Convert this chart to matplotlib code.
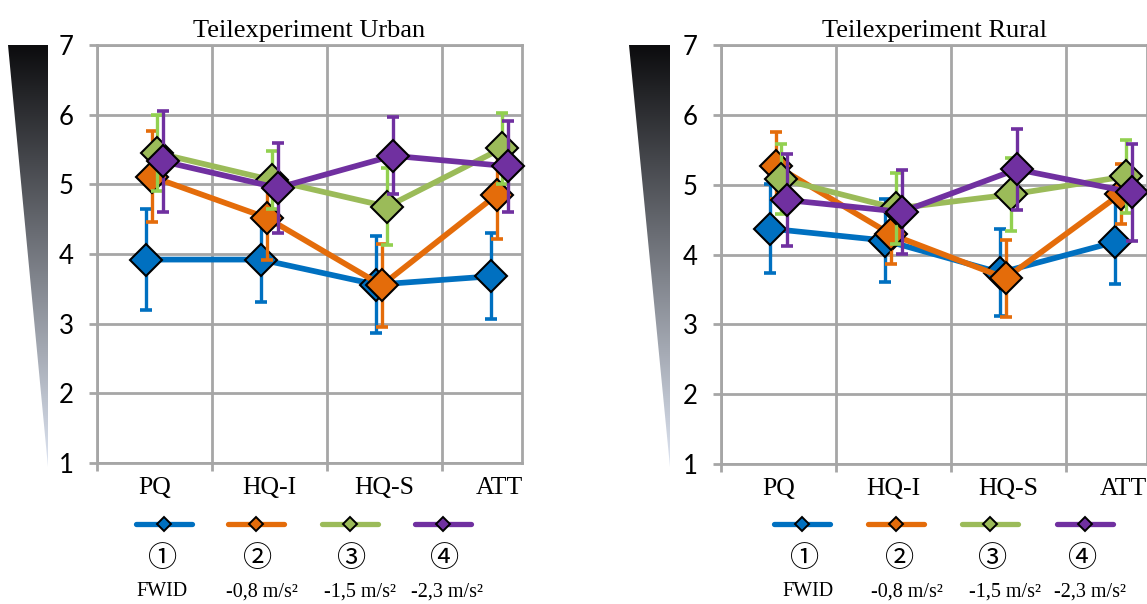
import numpy as np
import matplotlib
matplotlib.use("Agg")
import matplotlib.pyplot as plt
from matplotlib.patches import Polygon

# --- data -------------------------------------------------------------
categories = ["PQ", "HQ-I", "HQ-S", "ATT"]
series_numbers = ["①", "②", "③", "④"]
series_labels = ["FWID", "-0,8 m/s²", "-1,5 m/s²", "-2,3 m/s²"]

urban_fwid = [3.92, 3.92, 3.56, 3.68]
urban_fwid_err = [0.73, 0.61, 0.70, 0.62]
urban_08 = [5.11, 4.52, 3.55, 4.85]
urban_08_err = [0.65, 0.60, 0.60, 0.63]
urban_15 = [5.45, 5.06, 4.68, 5.52]
urban_15_err = [0.55, 0.42, 0.55, 0.51]
urban_23 = [5.33, 4.95, 5.41, 5.26]
urban_23_err = [0.72, 0.65, 0.55, 0.65]

rural_fwid = [4.37, 4.20, 3.74, 4.18]
rural_fwid_err = [0.64, 0.59, 0.62, 0.60]
rural_08 = [5.27, 4.29, 3.66, 4.87]
rural_08_err = [0.48, 0.43, 0.55, 0.43]
rural_15 = [5.08, 4.66, 4.86, 5.12]
rural_15_err = [0.50, 0.51, 0.52, 0.52]
rural_23 = [4.78, 4.61, 5.22, 4.89]
rural_23_err = [0.66, 0.60, 0.58, 0.69]

# --- style ------------------------------------------------------------
line_colors = ["#0070C0", "#E46C0A", "#9BBB59", "#7030A0"]
err_colors = ["#0070C0", "#E46C0A", "#92D050", "#7030A0"]
offsets = [-0.072, -0.024, 0.024, 0.072]
grid_color = "#A6A6A6"
serif = ["Liberation Serif", "DejaVu Serif"]
sans = ["Lato", "DejaVu Sans"]

W, H, DPI = 1147, 604, 100
fig = plt.figure(figsize=(W / DPI, H / DPI), dpi=DPI)


def px_axes(x0, x1, y_top, y_bot):
    return [x0 / W, 1 - y_bot / H, (x1 - x0) / W, (y_bot - y_top) / H]


def ax_width_units(ax):
    # one category step spans 115 px
    bbox = ax.get_position()
    return bbox.width * W / 115.0


def draw_panel(ax, title, series):
    x = np.arange(len(categories))
    for i, (vals, errs) in enumerate(series):
        xs = x + offsets[i]
        z = 3 + 3 * i
        ax.errorbar(xs, vals, yerr=errs, fmt="none", ecolor=err_colors[i],
                    elinewidth=2.4, capsize=4.3, capthick=2.6, zorder=z)
        ax.plot(xs, vals, color=line_colors[i], lw=4.1, zorder=z + 1,
                solid_joinstyle="round", solid_capstyle="round")
        ax.plot(xs, vals, ls="none", marker="D", ms=16.5, mfc=line_colors[i],
                mec="black", mew=1.5, zorder=z + 2, clip_on=False)

    ax.set_ylim(1, 7)
    ax.set_xlim(-0.5, -0.5 + ax_width_units(ax))
    ax.set_yticks(range(1, 8))
    ax.set_xticks(x)
    ax.set_xticklabels(categories, fontfamily=serif, fontsize=18.5)
    ax.set_xticks([-0.5, 0.5, 1.5, 2.5], minor=True)
    ax.tick_params(axis="x", which="major", length=0, pad=10)
    ax.tick_params(axis="x", which="minor", length=6, width=2, color=grid_color,
                   direction="out")
    ax.tick_params(axis="y", length=6, width=2, color=grid_color, pad=11,
                   labelsize=18.5)
    for lbl in ax.get_yticklabels():
        lbl.set_fontfamily(sans)
    ax.grid(axis="y", which="major", color=grid_color, lw=2)
    ax.grid(axis="x", which="minor", color=grid_color, lw=2)
    ax.set_axisbelow(True)
    for sp in ax.spines.values():
        sp.set_color(grid_color)
        sp.set_linewidth(2)
    ax.set_title(title, fontfamily=serif, fontsize=19, pad=6)


ax1 = fig.add_axes(px_axes(97, 522, 45, 463))
ax2 = fig.add_axes(px_axes(721, 1147, 45, 464))

draw_panel(ax1, "Teilexperiment Urban",
           [(urban_fwid, urban_fwid_err), (urban_08, urban_08_err),
            (urban_15, urban_15_err), (urban_23, urban_23_err)])
draw_panel(ax2, "Teilexperiment Rural",
           [(rural_fwid, rural_fwid_err), (rural_08, rural_08_err),
            (rural_15, rural_15_err), (rural_23, rural_23_err)])

# --- overlay: intensity wedges and legends ----------------------------
ov = fig.add_axes([0, 0, 1, 1], zorder=-1)
ov.axis("off")

top_rgb = np.array([12, 12, 14]) / 255
bot_rgb = np.array([222, 229, 242]) / 255
t = np.linspace(0, 1, 256)[:, None]
grad = (top_rgb[None, :] * (1 - t) + bot_rgb[None, :] * t)[:, None, :]


def wedge(x_left, x_right, y_top, y_tip):
    tri = Polygon([[x_left, y_top], [x_right, y_top], [x_right, y_tip]],
                  closed=True, fc="none", ec="none")
    ov.add_patch(tri)
    im = ov.imshow(grad, extent=[x_left, x_right, y_tip, y_top],
                   aspect="auto", interpolation="bilinear")
    im.set_clip_path(tri)


wedge(8, 48, 45, 467)
wedge(629, 670, 45, 467)
ov.set_xlim(0, W)
ov.set_ylim(H, 0)

legend_layout = [
    # key x, circled number x, caption x
    ([164, 256, 350, 443], [163, 258, 352, 445], [162, 262, 360, 447]),
    ([802, 896, 990, 1085], [805, 900, 993, 1083], [808, 907, 1005, 1090]),
]
for key_x, num_x, cap_x in legend_layout:
    for i in range(4):
        mx = key_x[i]
        ov.plot([mx - 28, mx + 28], [524, 524], color=line_colors[i], lw=3.8,
                solid_capstyle="round")
        ov.plot([mx], [524], marker="D", ms=7.5, mfc=line_colors[i],
                mec="black", mew=1.4, ls="none")
        ov.text(num_x[i], 559, series_numbers[i], ha="center", va="center",
                fontsize=21, fontfamily=["Noto Sans CJK JP", "DejaVu Sans"])
        ov.text(cap_x[i], 592, series_labels[i], ha="center", va="center",
                fontsize=14.5, fontfamily=serif)

fig.savefig("out.png", dpi=DPI)
